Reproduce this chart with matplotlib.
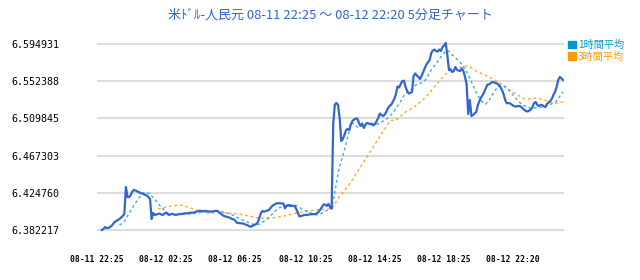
import matplotlib
matplotlib.use("Agg")
import matplotlib.pyplot as plt
from matplotlib.patches import Patch
import numpy as np
import pandas as pd

# USD/CNY 5-minute closes, 08-11 22:25 .. 08-12 22:20 (288 bars)
prices = [
    6.3822, 6.3833, 6.3856, 6.3845, 6.3845, 6.3856, 6.3868, 6.3891, 6.3914, 6.3925,
    6.3937, 6.3948, 6.3965, 6.3982, 6.4005, 6.4314, 6.4199, 6.4199, 6.4222, 6.4263,
    6.4280, 6.4274, 6.4263, 6.4257, 6.4245, 6.4240, 6.4234, 6.4222, 6.4217, 6.4199,
    6.4177, 6.3948, 6.4017, 6.3994, 6.3999, 6.4005, 6.4011, 6.3999, 6.3994, 6.4011,
    6.4020, 6.4005, 6.3994, 6.4005, 6.4005, 6.3999, 6.3994, 6.3999, 6.4002, 6.4005,
    6.4005, 6.4011, 6.4013, 6.4013, 6.4017, 6.4019, 6.4020, 6.4022, 6.4028, 6.4034,
    6.4039, 6.4043, 6.4039, 6.4039, 6.4039, 6.4039, 6.4036, 6.4034, 6.4031, 6.4034,
    6.4039, 6.4042, 6.4039, 6.4022, 6.4011, 6.3994, 6.3982, 6.3977, 6.3971, 6.3967,
    6.3959, 6.3948, 6.3945, 6.3931, 6.3906, 6.3902, 6.3900, 6.3899, 6.3896, 6.3888,
    6.3882, 6.3873, 6.3862, 6.3860, 6.3873, 6.3879, 6.3891, 6.3908, 6.3959, 6.4017,
    6.4039, 6.4031, 6.4039, 6.4045, 6.4051, 6.4074, 6.4097, 6.4108, 6.4120, 6.4128,
    6.4128, 6.4128, 6.4125, 6.4125, 6.4070, 6.4097, 6.4108, 6.4097, 6.4097, 6.4097,
    6.4097, 6.4062, 6.4017, 6.3977, 6.3982, 6.3988, 6.3994, 6.3994, 6.3996, 6.3999,
    6.4002, 6.4003, 6.4005, 6.4005, 6.4017, 6.4031, 6.4057, 6.4085, 6.4114, 6.4114,
    6.4097, 6.4120, 6.4085, 6.4066, 6.5034, 6.5257, 6.5274, 6.5252, 6.5103, 6.4840,
    6.4863, 6.4909, 6.4966, 6.4977, 6.4966, 6.5034, 6.5069, 6.5086, 6.5097, 6.5097,
    6.5046, 6.5012, 6.5040, 6.4989, 6.5023, 6.5046, 6.5040, 6.5034, 6.5029, 6.5020,
    6.5034, 6.5069, 6.5103, 6.5154, 6.5137, 6.5126, 6.5141, 6.5172, 6.5212, 6.5240,
    6.5252, 6.5286, 6.5320, 6.5377, 6.5463, 6.5452, 6.5492, 6.5526, 6.5530, 6.5457,
    6.5412, 6.5383, 6.5389, 6.5400, 6.5583, 6.5612, 6.5589, 6.5572, 6.5549, 6.5583,
    6.5629, 6.5675, 6.5715, 6.5743, 6.5766, 6.5846, 6.5875, 6.5886, 6.5869, 6.5863,
    6.5886, 6.5869, 6.5915, 6.5932, 6.5961, 6.5823, 6.5652, 6.5663, 6.5629, 6.5640,
    6.5686, 6.5652, 6.5646, 6.5640, 6.5669, 6.5640, 6.5572, 6.5492, 6.5149, 6.5309,
    6.5126, 6.5137, 6.5154, 6.5172, 6.5252, 6.5297, 6.5337, 6.5366, 6.5400, 6.5446,
    6.5486, 6.5486, 6.5503, 6.5515, 6.5509, 6.5503, 6.5498, 6.5480, 6.5457, 6.5423,
    6.5377, 6.5309, 6.5271, 6.5274, 6.5271, 6.5257, 6.5246, 6.5235, 6.5235, 6.5240,
    6.5240, 6.5229, 6.5212, 6.5194, 6.5183, 6.5177, 6.5189, 6.5200, 6.5229, 6.5274,
    6.5286, 6.5252, 6.5240, 6.5252, 6.5252, 6.5235, 6.5229, 6.5263, 6.5280, 6.5297,
    6.5320, 6.5366, 6.5400, 6.5457, 6.5538, 6.5572, 6.5555, 6.5538,
]

y_ticks = [6.382217, 6.424760, 6.467303, 6.509845, 6.552388, 6.594931]
x_labels = ["08-11 22:25", "08-12 02:25", "08-12 06:25", "08-12 10:25",
            "08-12 14:25", "08-12 18:25", "08-12 22:20"]
x_label_pos = [-3, 40, 83, 127, 170, 213, 256]
legend_labels = ["1時間平均", "3時間平均"]
title = "米ﾄﾞﾙ-人民元 08-11 22:25 ～ 08-12 22:20 5分足チャート"

s = pd.Series(prices)
ma1h = s.rolling(12).mean()
ma3h = s.rolling(36).mean()
x = np.arange(len(s))

jp = ["Noto Sans CJK JP", "DejaVu Sans"]

fig = plt.figure(figsize=(6.4, 2.8), dpi=100)
ax = fig.add_axes([97 / 640, 1 - 234 / 280, 467 / 640, 194 / 280])

ax.plot(x, ma3h, color="#ffa733", lw=1.0, ls=(0, (2, 2)))
ax.plot(x, ma1h, color="#3aaee0", lw=1.0, ls=(0, (2, 2)))
ax.plot(x, s, color="#3366cc", lw=1.6)

ax.set_xlim(-0.6, 287.6)
ax.set_ylim(6.377643, 6.599501)
ax.set_yticks(y_ticks)
ax.set_yticklabels(["%.6f" % v for v in y_ticks], family="DejaVu Sans Mono", fontsize=7.2)
ax.set_xticks(x_label_pos)
ax.set_xticklabels(x_labels, family="DejaVu Sans Mono", fontsize=5.8, fontweight="bold")
ax.tick_params(axis="y", length=0, pad=27)
ax.tick_params(axis="x", length=0, pad=15)
ax.grid(axis="y", color="#dddddd", lw=1.5)
ax.set_axisbelow(True)
for sp in ax.spines.values():
    sp.set_visible(False)

fig.text(330 / 640, 1 - 15 / 280, title, color="#3366cc", fontsize=9.4,
         family=jp, ha="center", va="center")

handles = [Patch(color="#0099cc"), Patch(color="#ff9900")]
fig.legend(handles, legend_labels, loc="upper left", bbox_to_anchor=(568 / 640, 1 - 40 / 280),
           frameon=False, prop={"family": jp, "size": 7.3},
           labelcolor=["#0099cc", "#ff9900"], handlelength=0.8, handleheight=0.8,
           handletextpad=0.2, labelspacing=0.15, borderpad=0, borderaxespad=0)

fig.savefig("out.png", dpi=100)
